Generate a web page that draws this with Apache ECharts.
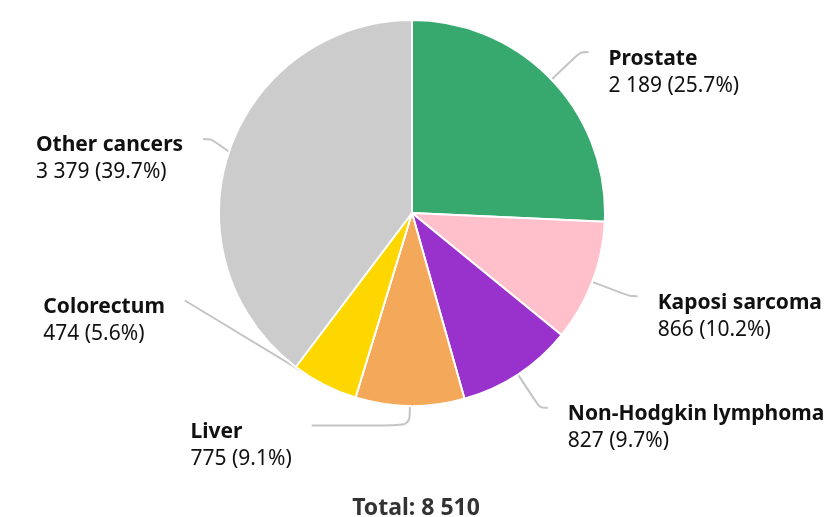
<!DOCTYPE html>
<html>
<head>
<meta charset="utf-8">
<script src="https://cdn.jsdelivr.net/npm/echarts@6/dist/echarts.min.js"></script>
<style>
  html, body { margin: 0; padding: 0; background: #fff; }
  #chart { width: 832px; height: 517px; }
</style>
</head>
<body>
<div id="chart"></div>
<script>
// data
const categories = ['Prostate', 'Kaposi sarcoma', 'Non-Hodgkin lymphoma', 'Liver', 'Colorectum', 'Other cancers'];
const counts = [2189, 866, 827, 775, 474, 3379];
const colors = ['#37a96f', '#ffc0cb', '#9932cc', '#f4a95a', '#ffd700', '#cccccc'];

const fmt = n => String(n).replace(/\B(?=(\d{3})+(?!\d))/g, ' ');
const total = counts.reduce((a, b) => a + b, 0);

// the crowded labels at the bottom left get their own spacing / leader lines
const labelTweaks = {
  'Liver': { margin: 77, length: 22, length2: 98 },
  'Colorectum': { margin: 77, length: 22, length2: 51 }
};

const chart = echarts.init(document.getElementById('chart'));
const font = 'Noto Sans';

let option = {
  animation: false,
  color: colors,
  title: {
    text: 'Total: ' + fmt(total),
    left: 'center',
    bottom: -4,
    padding: 0,
    textStyle: { fontFamily: font, fontSize: 23, fontWeight: 'bold', color: '#333', lineHeight: 26 }
  },
  series: [
    {
      type: 'pie',
      left: 0,
      top: 0,
      width: 832,
      height: 508,
      center: [412, 213],
      radius: 193,
      startAngle: 90,
      clockwise: true,
      percentPrecision: 1,
      itemStyle: { borderColor: '#fff', borderWidth: 2 },
      label: {
        show: true,
        position: 'outside',
        distanceToLabelLine: 20,
        overflow: 'none',
        padding: [40, 0, 0, 0],
        fontFamily: font,
        color: '#111',
        formatter: p => '{n|' + p.name + '}\n{v|' + fmt(p.value) + ' (' + p.percent.toFixed(1) + '%)}',
        rich: {
          n: { fontFamily: font, fontSize: 21, fontWeight: 'bold', lineHeight: 27, align: 'left', color: '#111' },
          v: { fontFamily: font, fontSize: 21, lineHeight: 27, align: 'left', color: '#111' }
        }
      },
      labelLine: {
        show: true,
        length: 40,
        length2: 8,
        smooth: 0.3,
        minTurnAngle: 50,
        lineStyle: { color: '#c4c4c4', width: 2 }
      },
      data: categories.map((c, i) => {
        const item = { name: c, value: counts[i] };
        const t = labelTweaks[c];
        if (t) {
          item.label = { minMargin: t.margin };
          item.labelLine = { length: t.length, length2: t.length2 };
        }
        return item;
      })
    }
  ]
};
chart.setOption(option);
</script>
</body>
</html>
